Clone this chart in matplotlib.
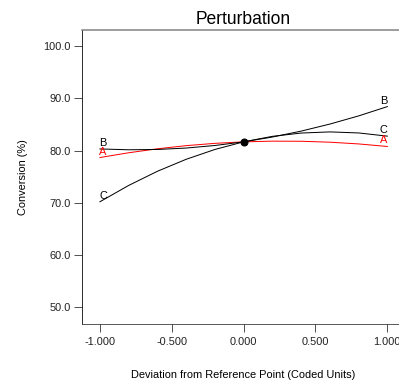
import numpy as np
import matplotlib
matplotlib.use('Agg')
import matplotlib.pyplot as plt

plt.rcParams.update({
    'font.family': ['Liberation Sans', 'DejaVu Sans'],
    'font.size': 11,
})

# deviation from reference point (coded units)
dev = [-1.0, -0.8, -0.6, -0.4, -0.2, 0.0, 0.2, 0.4, 0.6, 0.8, 1.0]
conv_a = [78.66, 79.57, 80.33, 80.93, 81.37, 81.66, 81.79, 81.77, 81.59, 81.26, 80.77]
conv_b = [80.30, 80.14, 80.20, 80.47, 80.96, 81.66, 82.58, 83.71, 85.06, 86.62, 88.40]
conv_c = [70.20, 73.32, 76.03, 78.32, 80.20, 81.66, 82.71, 83.34, 83.56, 83.36, 82.75]
ref_point = (0.0, 81.66)

xticks = [-1.0, -0.5, 0.0, 0.5, 1.0]
yticks = [50, 60, 70, 80, 90, 100]

fig = plt.figure(figsize=(399 / 72, 388 / 72), dpi=72)
ax = fig.add_axes([0.2048, 0.1657, 0.8117, 0.757])

series = [('A', conv_a, 'red'), ('B', conv_b, 'black'), ('C', conv_c, 'black')]
for name, vals, col in series:
    ax.plot(dev, vals, color=col, linewidth=1.0)
    ax.annotate(name, xy=(dev[0], vals[0]), xytext=(3, 1), textcoords='offset points',
                color=col, fontsize=11, ha='center', va='bottom')
    ax.annotate(name, xy=(dev[-1], vals[-1]), xytext=(-4, 1), textcoords='offset points',
                color=col, fontsize=11, ha='center', va='bottom')

ax.plot(*ref_point, 'o', color='black', markersize=7, zorder=5)

ax.set_xlim(-1.127, 1.127)
ax.set_ylim(46.86, 103.06)
ax.set_xticks(xticks)
ax.set_xticklabels([f'{v:.3f}' for v in xticks])
ax.set_yticks(yticks)
ax.set_yticklabels([f'{v:.1f}' for v in yticks])

ax.spines['right'].set_visible(False)
ax.spines['top'].set_color('#808080')
ax.spines['top'].set_linewidth(1.5)
ax.spines['left'].set_color('black')
ax.spines['bottom'].set_color('#333333')
ax.tick_params(direction='out', length=8, width=1, color='#555555',
               labelsize=11, labelcolor='#222222')
ax.tick_params(axis='x', pad=5)
ax.tick_params(axis='y', pad=3)

ax.set_title('Perturbation', fontsize=17.5, pad=6)
ax.set_xlabel('Deviation from Reference Point (Coded Units)', fontsize=11, labelpad=23)
ax.set_ylabel('Conversion (%)', fontsize=11, labelpad=15)

fig.savefig('out.png', dpi=72, facecolor='white')
